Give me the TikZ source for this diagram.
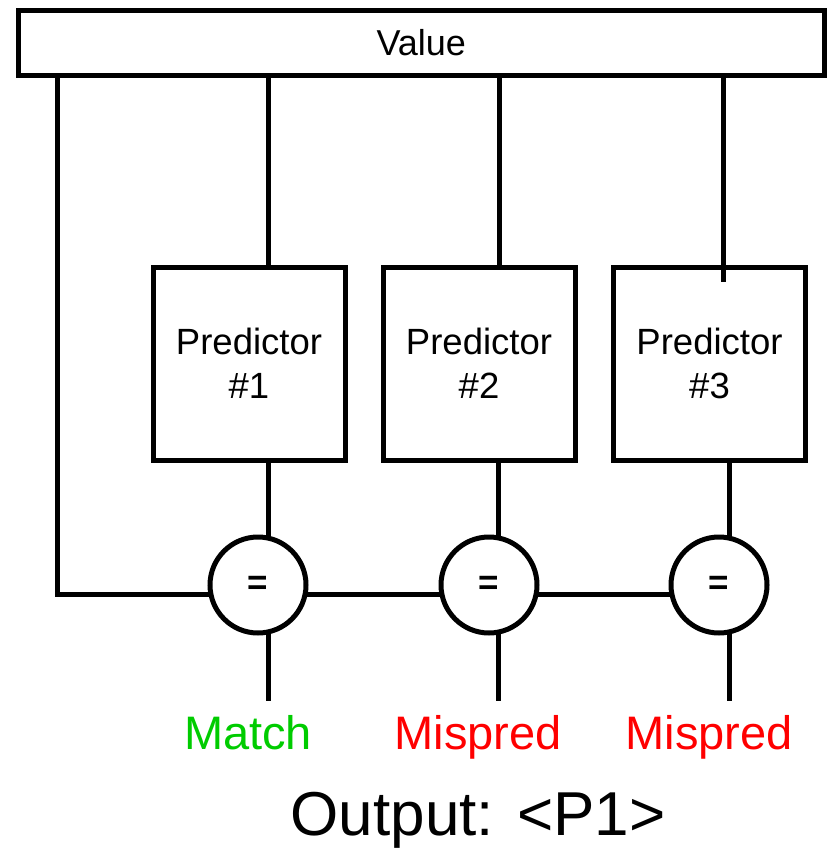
\documentclass[tikz,border=0pt]{standalone}
\usepackage{fontspec}
\setmainfont{Liberation Sans}
\usetikzlibrary{backgrounds}
\definecolor{okgreen}{RGB}{0,204,0}
\definecolor{badred}{RGB}{255,0,0}
\begin{document}
\begin{tikzpicture}[x=1pt,y=-1pt,line width=5pt,
  wire/.style={line width=5pt},
  valuebox/.style={draw,fill=white,minimum width=805.5pt,minimum height=65pt,inner sep=0pt,
    font=\fontsize{36}{43}\selectfont},
  predbox/.style={draw,fill=white,minimum width=192pt,minimum height=193pt,inner sep=0pt,
    align=center,font=\fontsize{36.5}{44}\selectfont},
  cmp/.style={draw,circle,fill=white,minimum size=96pt,inner sep=0pt,
    font=\bfseries\fontsize{35}{40}\selectfont},
  result/.style={anchor=base,font=\fontsize{47}{56}\selectfont}]
  \useasboundingbox (0,0) rectangle (827,848);

  % value bus and predictors
  \node[valuebox] (v) at (421.25,43) {Value};
  \node[predbox] (p1) at (249,363.5) {Predictor\\\#1};
  \node[predbox] (p2) at (479,363.5) {Predictor\\\#2};
  \node[predbox] (p3) at (709.5,363.5) {Predictor\\\#3};

  % comparators
  \node[cmp] (c1) at (258,585) {=};
  \node[cmp] (c2) at (489,585) {=};
  \node[cmp] (c3) at (719,585) {=};

  % output ends and the stub inside predictor 3
  \coordinate (o1) at (268,701);
  \coordinate (o2) at (498.5,701);
  \coordinate (o3) at (729.5,701);
  \coordinate (p3in) at (723,282);

  % value into predictor 3, running a little way inside the box
  \draw[wire] (v.south -| p3in) -- (p3in);

  \begin{pgfonlayer}{background}
    % value into predictors 1 and 2
    \draw[wire] (v.south -| 268,0) -- (p1.north -| 268,0);
    \draw[wire] (v.south -| 499,0) -- (p2.north -| 499,0);
    % predictions into comparators
    \draw[wire] (p1.south -| 268,0) -- (c1.center -| 268,0);
    \draw[wire] (p2.south -| 498.5,0) -- (c2.center -| 498.5,0);
    \draw[wire] (p3.south -| 729.5,0) -- (c3.center -| 729.5,0);
    % value bus along the comparators
    \draw[wire,line join=miter] (v.south -| 57,0) -- (57,594) -- (c1.center |- 0,594)
      -- (c2.center |- 0,594) -- (c3.center |- 0,594);
    % comparator outputs
    \draw[wire] (c1.center -| o1) -- (o1);
    \draw[wire] (c2.center -| o2) -- (o2);
    \draw[wire] (c3.center -| o3) -- (o3);
  \end{pgfonlayer}

  \node[result,text=okgreen] (r1) at (248,749) {Match};
  \node[result,text=badred] (r2) at (478,749) {Mispred};
  \node[result,text=badred] (r3) at (709,749) {Mispred};
  \node[anchor=base,font=\fontsize{62}{74}\selectfont] (out) at (478,835) {Output: <P1>};
\end{tikzpicture}
\end{document}
